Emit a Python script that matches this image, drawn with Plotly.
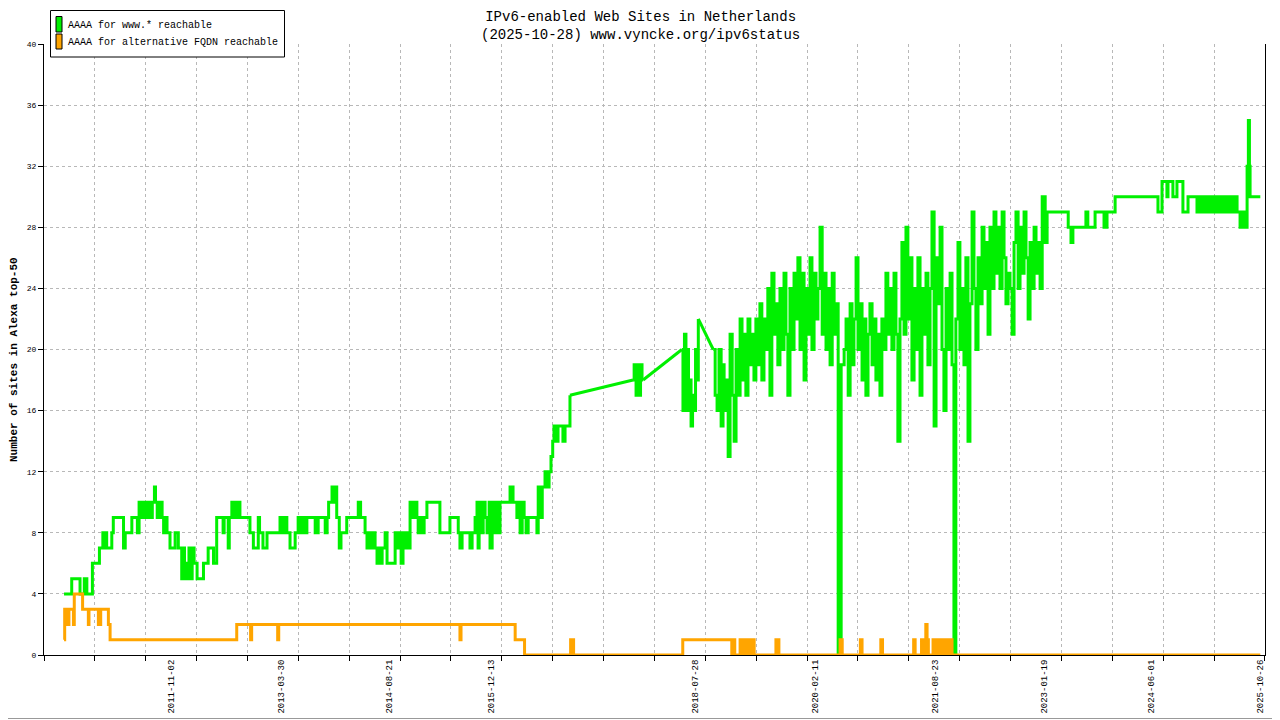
import plotly.graph_objects as go

# --- data (date, sites) ---
GREEN_2010_2016 = [
    ("2010-06-18", 4), ("2010-07-24", 5), ("2010-09-01", 4), ("2010-09-21", 5), ("2010-10-03", 4),
    ("2010-10-29", 6), ("2010-12-01", 7), ("2010-12-17", 8), ("2010-12-23", 7), ("2010-12-28", 8),
    ("2011-01-04", 7), ("2011-01-28", 8), ("2011-02-04", 9), ("2011-03-24", 7), ("2011-04-01", 8),
    ("2011-05-02", 9), ("2011-05-28", 8), ("2011-06-05", 10), ("2011-06-15", 9), ("2011-06-24", 10),
    ("2011-07-04", 9), ("2011-07-13", 10), ("2011-07-27", 9), ("2011-08-06", 10), ("2011-08-16", 11),
    ("2011-08-21", 10), ("2011-08-29", 9), ("2011-09-07", 10), ("2011-09-21", 9), ("2011-09-28", 8),
    ("2011-10-05", 9), ("2011-10-14", 8), ("2011-10-28", 7), ("2011-11-21", 8), ("2011-12-06", 7),
    ("2011-12-22", 5), ("2011-12-28", 7), ("2012-01-04", 5), ("2012-01-11", 6), ("2012-01-18", 5),
    ("2012-01-25", 7), ("2012-02-01", 5), ("2012-02-09", 7), ("2012-02-18", 6), ("2012-03-03", 5),
    ("2012-04-02", 6), ("2012-04-24", 7), ("2012-05-19", 6), ("2012-06-03", 9), ("2012-07-03", 8),
    ("2012-07-08", 9), ("2012-07-27", 7), ("2012-08-01", 9), ("2012-08-13", 10), ("2012-08-19", 9),
    ("2012-08-28", 10), ("2012-09-02", 9), ("2012-09-11", 10), ("2012-09-20", 9), ("2012-11-06", 8),
    ("2012-11-22", 7), ("2012-12-15", 9), ("2012-12-21", 8), ("2013-01-06", 7), ("2013-01-25", 8),
    ("2013-03-27", 9), ("2013-04-06", 8), ("2013-04-15", 9), ("2013-04-28", 8), ("2013-05-13", 7),
    ("2013-06-06", 8), ("2013-06-20", 9), ("2013-06-29", 8), ("2013-07-09", 9), ("2013-07-18", 8),
    ("2013-07-31", 9), ("2013-09-08", 8), ("2013-09-22", 9), ("2013-10-25", 8), ("2013-11-03", 9),
    ("2013-11-10", 10), ("2013-11-26", 11), ("2013-12-05", 10), ("2013-12-12", 11), ("2013-12-18", 9),
    ("2013-12-30", 7), ("2014-01-07", 8), ("2014-02-03", 9), ("2014-03-29", 10), ("2014-04-09", 9),
    ("2014-04-30", 8), ("2014-05-09", 7), ("2014-05-18", 8), ("2014-05-28", 7), ("2014-06-06", 8),
    ("2014-06-16", 7), ("2014-06-25", 6), ("2014-07-02", 7), ("2014-07-09", 6), ("2014-07-19", 7),
    ("2014-08-02", 8), ("2014-08-11", 6), ("2014-09-18", 8), ("2014-09-27", 7), ("2014-10-06", 8),
    ("2014-10-16", 6), ("2014-10-25", 8), ("2014-11-04", 7), ("2014-11-13", 8), ("2014-11-23", 7),
    ("2014-11-27", 10), ("2014-12-11", 9), ("2014-12-16", 10), ("2014-12-29", 9), ("2015-01-04", 8),
    ("2015-01-13", 9), ("2015-01-23", 8), ("2015-02-01", 9), ("2015-02-14", 10), ("2015-04-16", 8),
    ("2015-06-02", 9), ("2015-07-11", 8), ("2015-07-19", 7), ("2015-07-29", 8), ("2015-09-04", 7),
    ("2015-09-14", 8), ("2015-09-28", 9), ("2015-10-07", 10), ("2015-10-12", 7), ("2015-10-17", 10),
    ("2015-10-26", 8), ("2015-11-05", 10), ("2015-11-14", 9), ("2015-11-23", 8), ("2015-12-03", 10),
    ("2015-12-07", 7), ("2015-12-17", 10), ("2015-12-26", 8), ("2016-01-04", 10), ("2016-01-14", 8),
    ("2016-01-23", 10), ("2016-03-10", 11), ("2016-03-24", 10), ("2016-04-11", 9), ("2016-04-17", 10),
    ("2016-04-26", 8), ("2016-05-06", 10), ("2016-05-15", 9), ("2016-05-24", 8), ("2016-06-03", 9),
    ("2016-07-14", 8), ("2016-07-20", 11), ("2016-07-29", 9), ("2016-08-08", 11), ("2016-08-21", 12),
    ("2016-08-30", 11), ("2016-09-09", 12), ("2016-09-18", 13), ("2016-09-26", 14), ("2016-10-02", 15),
    ("2016-10-11", 14), ("2016-10-21", 15), ("2016-11-13", 14), ("2016-11-23", 15), ("2016-12-16", 17),
]
GREEN_2017 = [
    ("2017-10-08", 18), ("2017-10-13", 19), ("2017-10-22", 17), ("2017-10-29", 19), ("2017-11-05", 17),
    ("2017-11-12", 19), ("2017-11-19", 18), ("2017-11-24", 18),
]
GREEN_2018 = [
    ("2018-05-25", 20), ("2018-05-30", 16), ("2018-06-06", 21), ("2018-06-13", 16), ("2018-06-18", 20),
    ("2018-06-25", 16), ("2018-07-02", 18), ("2018-07-07", 15), ("2018-07-14", 17), ("2018-07-21", 16),
    ("2018-07-28", 20), ("2018-08-04", 18), ("2018-08-10", 22),
]
GREEN_2018_2025 = [
    ("2018-10-19", 20), ("2018-10-28", 17), ("2018-11-06", 16), ("2018-11-15", 20), ("2018-11-25", 15),
    ("2018-12-04", 19), ("2018-12-09", 16), ("2018-12-18", 18), ("2018-12-28", 13), ("2019-01-06", 21),
    ("2019-01-16", 17), ("2019-01-25", 14), ("2019-02-03", 20), ("2019-02-13", 17), ("2019-02-22", 22),
    ("2019-03-03", 18), ("2019-03-12", 21), ("2019-03-21", 17), ("2019-03-31", 22), ("2019-04-09", 19),
    ("2019-04-19", 21), ("2019-04-28", 18), ("2019-05-07", 22), ("2019-05-17", 19), ("2019-05-26", 23),
    ("2019-06-04", 18), ("2019-06-14", 22), ("2019-06-23", 20), ("2019-07-02", 24), ("2019-07-12", 17),
    ("2019-07-21", 25), ("2019-07-31", 21), ("2019-08-09", 23), ("2019-08-18", 19), ("2019-08-28", 24),
    ("2019-09-06", 20), ("2019-09-16", 25), ("2019-09-25", 21), ("2019-10-04", 17), ("2019-10-14", 24),
    ("2019-10-23", 20), ("2019-11-02", 25), ("2019-11-11", 22), ("2019-11-20", 26), ("2019-11-30", 20),
    ("2019-12-09", 25), ("2019-12-19", 18), ("2019-12-28", 24), ("2020-01-06", 21), ("2020-01-16", 26),
    ("2020-01-25", 20), ("2020-02-04", 25), ("2020-02-13", 22), ("2020-02-22", 24), ("2020-03-03", 28),
    ("2020-03-13", 21), ("2020-03-22", 25), ("2020-03-31", 20), ("2020-04-10", 24), ("2020-04-19", 19),
    ("2020-04-29", 25), ("2020-05-08", 21), ("2020-05-17", 23), ("2020-05-27", 0), ("2020-06-10", 19),
    ("2020-06-24", 20), ("2020-07-03", 22), ("2020-07-13", 17), ("2020-07-22", 23), ("2020-07-31", 19),
    ("2020-08-09", 22), ("2020-08-19", 26), ("2020-08-28", 20), ("2020-09-06", 23), ("2020-09-16", 18),
    ("2020-09-25", 22), ("2020-10-04", 17), ("2020-10-14", 21), ("2020-10-23", 23), ("2020-11-02", 19),
    ("2020-11-11", 22), ("2020-11-20", 18), ("2020-11-30", 21), ("2020-12-09", 17), ("2020-12-18", 22),
    ("2020-12-28", 20), ("2021-01-06", 25), ("2021-01-15", 21), ("2021-01-25", 24), ("2021-02-03", 20),
    ("2021-02-13", 25), ("2021-02-22", 21), ("2021-03-03", 14), ("2021-03-13", 22), ("2021-03-22", 27),
    ("2021-04-01", 21), ("2021-04-10", 28), ("2021-04-19", 22), ("2021-04-29", 26), ("2021-05-08", 18),
    ("2021-05-18", 24), ("2021-05-27", 20), ("2021-06-05", 26), ("2021-06-15", 17), ("2021-06-24", 24),
    ("2021-07-04", 21), ("2021-07-13", 25), ("2021-07-22", 19), ("2021-08-01", 24), ("2021-08-10", 29),
    ("2021-08-20", 15), ("2021-08-29", 26), ("2021-09-07", 23), ("2021-09-17", 28), ("2021-09-26", 20),
    ("2021-10-05", 16), ("2021-10-15", 24), ("2021-10-24", 20), ("2021-11-03", 25), ("2021-11-12", 19),
    ("2021-11-21", 0), ("2021-11-30", 22), ("2021-12-10", 27), ("2021-12-19", 20), ("2021-12-29", 24),
    ("2022-01-07", 19), ("2022-01-16", 26), ("2022-01-26", 14), ("2022-02-04", 23), ("2022-02-14", 29),
    ("2022-02-23", 24), ("2022-03-04", 20), ("2022-03-14", 26), ("2022-03-23", 23), ("2022-04-02", 28),
    ("2022-04-11", 24), ("2022-04-20", 27), ("2022-04-30", 21), ("2022-05-09", 28), ("2022-05-19", 24),
    ("2022-05-28", 29), ("2022-06-06", 25), ("2022-06-16", 28), ("2022-06-25", 24), ("2022-07-05", 29),
    ("2022-07-14", 26), ("2022-07-23", 23), ("2022-08-02", 25), ("2022-08-11", 24), ("2022-08-21", 21),
    ("2022-08-30", 27), ("2022-09-08", 29), ("2022-09-18", 24), ("2022-09-27", 28), ("2022-10-07", 25),
    ("2022-10-16", 29), ("2022-10-25", 26), ("2022-11-04", 22), ("2022-11-13", 27), ("2022-11-23", 24),
    ("2022-12-02", 28), ("2022-12-11", 25), ("2022-12-21", 27), ("2022-12-30", 24), ("2023-01-09", 30),
    ("2023-01-23", 27), ("2023-02-01", 29), ("2023-05-11", 28), ("2023-05-24", 27), ("2023-06-02", 28),
    ("2023-08-02", 29), ("2023-08-11", 28), ("2023-09-14", 29), ("2023-10-26", 28), ("2023-11-09", 29),
    ("2023-12-17", 30), ("2024-07-05", 29), ("2024-07-24", 31), ("2024-08-16", 30), ("2024-08-21", 31),
    ("2024-09-13", 30), ("2024-10-02", 31), ("2024-10-30", 29), ("2024-11-23", 30), ("2025-01-04", 29),
    ("2025-01-18", 30), ("2025-02-01", 29), ("2025-02-15", 30), ("2025-03-01", 29), ("2025-03-11", 30),
    ("2025-03-25", 29), ("2025-04-08", 30), ("2025-04-18", 29), ("2025-05-02", 30), ("2025-05-16", 29),
    ("2025-05-30", 30), ("2025-06-13", 29), ("2025-06-27", 30), ("2025-07-11", 29), ("2025-07-25", 28),
    ("2025-08-08", 29), ("2025-08-18", 28), ("2025-08-27", 32), ("2025-09-02", 35), ("2025-09-07", 32),
    ("2025-09-10", 30), ("2025-10-28", 30),
]
ORANGE = [
    ("2010-06-18", 1), ("2010-06-21", 3), ("2010-06-25", 2), ("2010-06-30", 3), ("2010-07-07", 2),
    ("2010-07-11", 3), ("2010-08-01", 2), ("2010-08-05", 4), ("2010-09-13", 3), ("2010-10-10", 2),
    ("2010-10-13", 3), ("2010-11-26", 2), ("2010-12-07", 3), ("2011-01-12", 2), ("2011-01-20", 1),
    ("2012-09-05", 2), ("2012-11-09", 1), ("2012-11-14", 2), ("2013-03-16", 1), ("2013-03-21", 2),
    ("2015-07-19", 1), ("2015-07-24", 2), ("2016-04-03", 1), ("2016-05-17", 0), ("2016-12-19", 1),
    ("2017-01-02", 0), ("2018-05-29", 1), ("2019-01-14", 0), ("2019-01-20", 1), ("2019-01-28", 0),
    ("2019-02-22", 1), ("2019-03-03", 0), ("2019-03-10", 1), ("2019-03-17", 0), ("2019-03-24", 1),
    ("2019-03-31", 0), ("2019-04-07", 1), ("2019-04-14", 0), ("2019-04-21", 1), ("2019-04-29", 0),
    ("2019-08-09", 1), ("2019-08-23", 0), ("2020-06-05", 1), ("2020-06-15", 0), ("2020-09-08", 1),
    ("2020-09-16", 0), ("2020-12-13", 1), ("2020-12-21", 0), ("2021-05-16", 1), ("2021-05-23", 0),
    ("2021-06-22", 1), ("2021-06-29", 0), ("2021-07-12", 2), ("2021-07-18", 1), ("2021-07-24", 0),
    ("2021-08-15", 1), ("2021-08-25", 0), ("2021-09-03", 1), ("2021-09-12", 0), ("2021-09-22", 1),
    ("2021-10-01", 0), ("2021-10-10", 1), ("2021-10-17", 0), ("2021-10-24", 1), ("2021-11-03", 0),
    ("2021-11-08", 1), ("2021-11-12", 0), ("2025-10-28", 0),
]

LABEL_DATES = ["2011-11-02", "2013-03-30", "2014-08-21", "2015-12-13", "2018-07-28",
               "2020-02-11", "2021-08-23", "2023-01-19", "2024-06-01", "2025-10-26"]

GREEN_NAME = "AAAA for www.* reachable"
ORANGE_NAME = "AAAA for alternative FQDN reachable"
TITLE = "IPv6-enabled Web Sites in Netherlands<br>(2025-10-28) www.vyncke.org/ipv6status"
Y_TITLE = "Number of sites in Alexa top-50"

GREEN_COL = "#00f000"
ORANGE_COL = "#ffa500"
FONT = "Liberation Mono"

# the page body has an 8px margin, so the figure is shifted by that much
PAGE = 8
FIG_W, FIG_H = 1280 - PAGE, 720 - PAGE
# plot area in screen pixels
L, R, T, B = 44, 1265, 44, 655


def px(x):
    return (x - L) / (R - L)


def py(y):
    return (B - y) / (B - T)


fig = go.Figure()

segments = [GREEN_2010_2016, GREEN_2017, GREEN_2018, GREEN_2018_2025]
# sparse stretches: the samples are simply joined by a straight line
for a, b in zip(segments[:-1], segments[1:]):
    fig.add_trace(go.Scatter(x=[a[-1][0], b[0][0]], y=[a[-1][1], b[0][1]], mode="lines",
                             line=dict(color=GREEN_COL, width=3), hoverinfo="skip"))
for seg in segments:
    d, v = zip(*seg)
    fig.add_trace(go.Scatter(x=list(d), y=list(v), mode="lines", line_shape="hv",
                             line=dict(color=GREEN_COL, width=3), name=GREEN_NAME))

d, v = zip(*ORANGE)
fig.add_trace(go.Scatter(x=list(d), y=list(v), mode="lines", line_shape="hv",
                         line=dict(color=ORANGE_COL, width=3), name=ORANGE_NAME))

grid = dict(showgrid=True, gridcolor="#b8b8b8", griddash="dot", gridwidth=1)

fig.update_xaxes(type="date", range=["2010-03-16", "2025-11-19"], automargin=False,
                 tickmode="array", tickvals=LABEL_DATES, ticktext=LABEL_DATES,
                 tickangle=-90, ticks="", showgrid=False, zeroline=False,
                 showline=True, linecolor="black", linewidth=1,
                 tickfont=dict(family=FONT, size=9, color="black"),
                 minor=dict(tick0="2010-03-16", dtick=238.6 * 86400000, ticks="outside",
                            ticklen=5, tickcolor="black", **grid))
fig.update_yaxes(range=[0, 40], tick0=0, dtick=4, ticks="outside", ticklen=5, automargin=False,
                 tickcolor="black", zeroline=False, showline=True, mirror=True,
                 linecolor="black", linewidth=1,
                 tickfont=dict(family=FONT, size=8, color="black"),
                 **grid)

shapes = [
    # outer frame of the image
    dict(type="rect", xref="paper", yref="paper", x0=px(0.5), x1=px(1278.5), y0=py(718.5), y1=py(0.5),
         line=dict(color="#999999", width=1)),
    # legend box
    dict(type="rect", xref="paper", yref="paper", x0=px(50.5), x1=px(284.5), y0=py(57), y1=py(10.5),
         line=dict(color="black", width=1), fillcolor="white", layer="above"),
    dict(type="rect", xref="paper", yref="paper", x0=px(56), x1=px(62), y0=py(32), y1=py(16.5),
         line=dict(color="black", width=1), fillcolor=GREEN_COL, layer="above"),
    dict(type="rect", xref="paper", yref="paper", x0=px(56), x1=px(62), y0=py(49), y1=py(34),
         line=dict(color="black", width=1), fillcolor=ORANGE_COL, layer="above"),
]

annotations = [
    dict(text=TITLE, xref="paper", yref="paper", x=px(640), y=py(8), xanchor="center",
         yanchor="top", borderpad=0, showarrow=False,
         font=dict(family=FONT, size=14, color="black")),
    dict(text=f"<b>{Y_TITLE}</b>", xref="paper", yref="paper", x=px(14), y=py(360),
         xanchor="center", yanchor="middle", textangle=-90, showarrow=False,
         font=dict(family=FONT, size=11, color="black")),
    dict(text=GREEN_NAME, xref="paper", yref="paper", x=px(66), y=py(25), xanchor="left",
         yanchor="middle", showarrow=False, font=dict(family=FONT, size=10, color="black")),
    dict(text=ORANGE_NAME, xref="paper", yref="paper", x=px(66), y=py(42.5), xanchor="left",
         yanchor="middle", showarrow=False, font=dict(family=FONT, size=10, color="black")),
]

fig.update_layout(width=FIG_W, height=FIG_H, showlegend=False,
                  margin=dict(l=L - PAGE, r=FIG_W - (R - PAGE), t=T - PAGE, b=FIG_H - (B - PAGE)),
                  paper_bgcolor="white", plot_bgcolor="white",
                  font=dict(family=FONT, color="black"),
                  shapes=shapes, annotations=annotations)

fig.write_html("out.html")
